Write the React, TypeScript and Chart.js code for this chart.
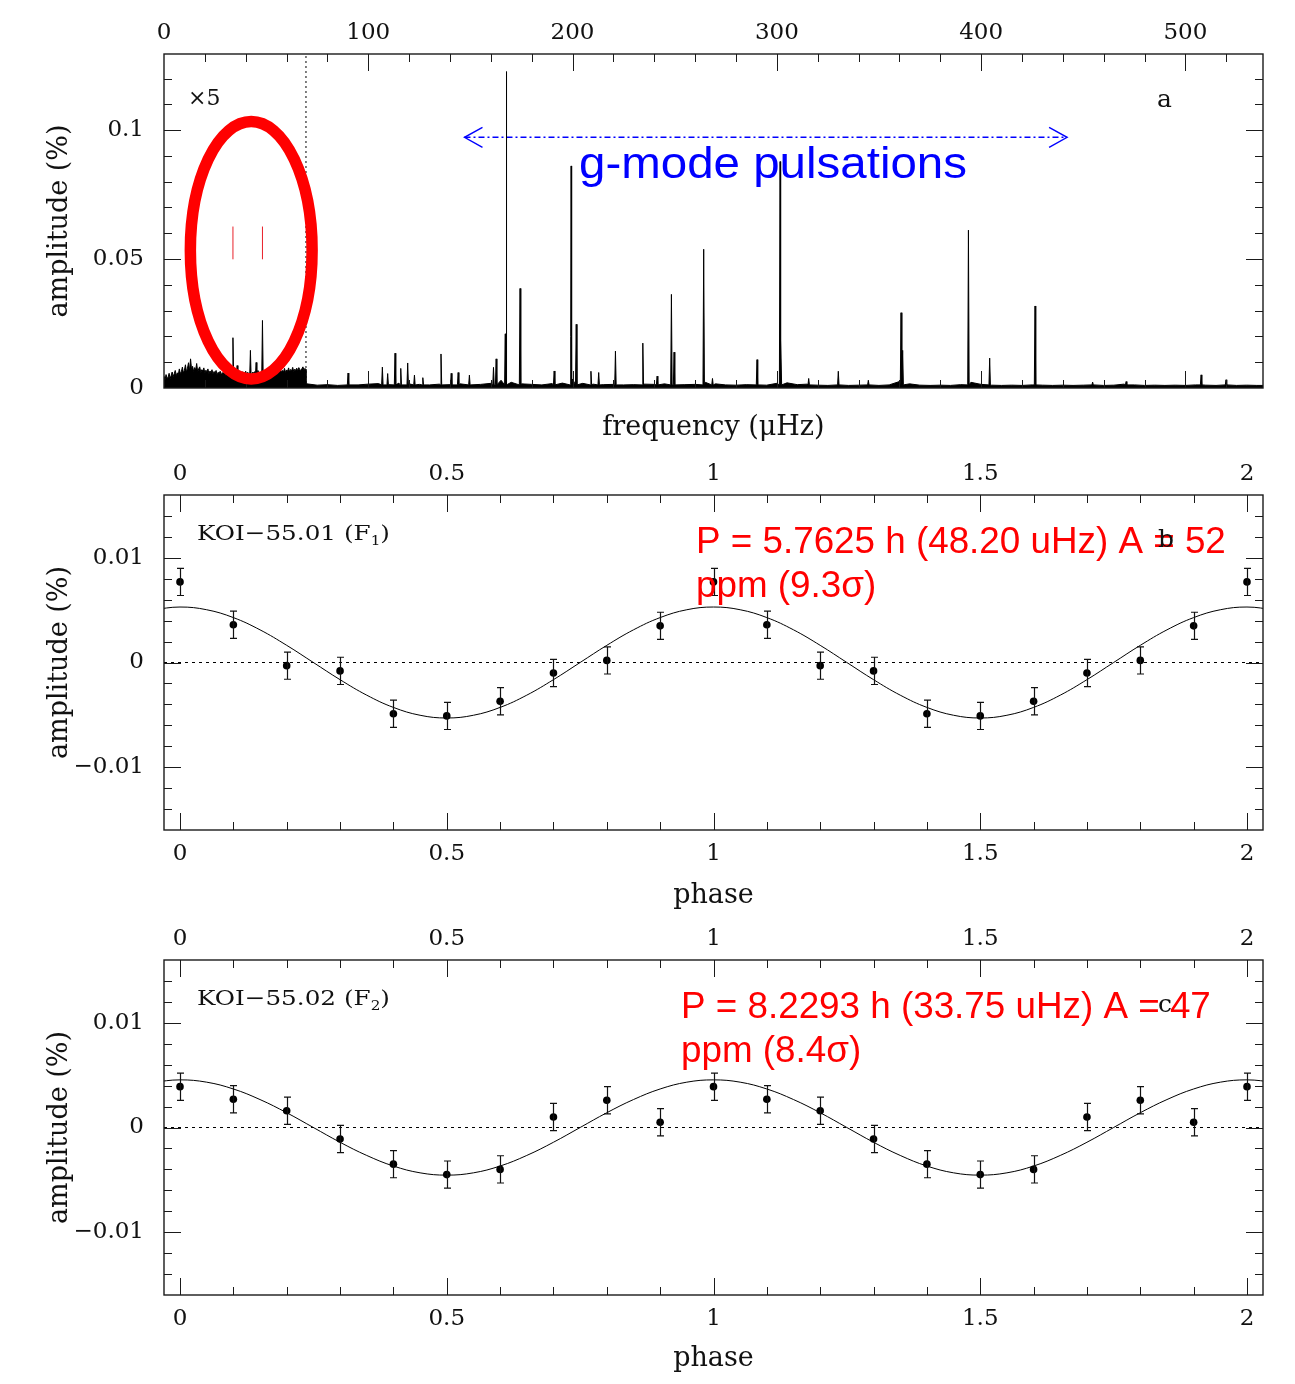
import React, { useEffect, useRef } from "react";
import { Chart, registerables } from "chart.js";

Chart.register(...registerables);

const SERIF = '"DejaVu Serif", serif';
const SANS = '"Liberation Sans", Arial, sans-serif';

// ================= Panel a : amplitude spectrum =================
const freqRange = [0, 538];
const ampRange = [0, 0.1295];
const freqTickStep = 100;
const ampTickStep = 0.05;
const cutoffFreq = 69.5; // below this the spectrum is shown x5

// low-frequency noise band (x5), one value per 0.5 µHz from 0 µHz
const lowNoiseStep = 0.5;
const lowNoise = [
  0.0046, 0.0031, 0.0052, 0.0038, 0.0041, 0.0057, 0.0036, 0.0049, 0.0062, 0.0044,
  0.0055, 0.0068, 0.0047, 0.0059, 0.0051, 0.0074, 0.0056, 0.0063, 0.0081, 0.0058,
  0.0069, 0.0090, 0.0061, 0.0077, 0.0098, 0.0066, 0.0113, 0.0072, 0.0084, 0.0064,
  0.0079, 0.0070, 0.0095, 0.0062, 0.0075, 0.0082, 0.0060, 0.0071, 0.0066, 0.0078,
  0.0058, 0.0069, 0.0063, 0.0074, 0.0055, 0.0066, 0.0060, 0.0071, 0.0053, 0.0064,
  0.0058, 0.0068, 0.0050, 0.0061, 0.0056, 0.0065, 0.0049, 0.0060, 0.0054, 0.0063,
  0.0048, 0.0059, 0.0052, 0.0064, 0.0047, 0.0058, 0.0053, 0.0061, 0.0049, 0.0057,
  0.0062, 0.0050, 0.0055, 0.0066, 0.0048, 0.0060, 0.0053, 0.0063, 0.0051, 0.0058,
  0.0065, 0.0049, 0.0061, 0.0054, 0.0059, 0.0067, 0.0052, 0.0062, 0.0056, 0.0064,
  0.0057, 0.0050, 0.0068, 0.0055, 0.0060, 0.0053, 0.0066, 0.0058, 0.0063, 0.0051,
  0.0067, 0.0056, 0.0061, 0.0069, 0.0054, 0.0064, 0.0059, 0.0071, 0.0057, 0.0065,
  0.0060, 0.0072, 0.0058, 0.0066, 0.0074, 0.0061, 0.0068, 0.0063, 0.0076, 0.0060,
  0.0070, 0.0065, 0.0078, 0.0062, 0.0072, 0.0067, 0.0080, 0.0064, 0.0073, 0.0069,
  0.0077, 0.0066, 0.0079, 0.0071, 0.0068, 0.0075, 0.0082, 0.0070, 0.0076, 0.0072,
];

// noise floor above the cut-off, every 5 µHz from 70 µHz
const highNoiseStart = 70;
const highNoiseStep = 5;
const highNoise = [
  0.0016, 0.0011, 0.0013, 0.0010, 0.0014, 0.0012, 0.0015, 0.0017, 0.0013, 0.0019,
  0.0016, 0.0014, 0.0012, 0.0015, 0.0013, 0.0016, 0.0012, 0.0014, 0.0018, 0.0030,
  0.0022, 0.0016, 0.0014, 0.0012, 0.0017, 0.0019, 0.0035, 0.0018, 0.0015, 0.0013,
  0.0014, 0.0012, 0.0013, 0.0015, 0.0014, 0.0016, 0.0020, 0.0013, 0.0014, 0.0022,
  0.0016, 0.0012, 0.0011, 0.0013, 0.0012, 0.0011, 0.0018, 0.0020, 0.0013, 0.0015,
  0.0011, 0.0010, 0.0012, 0.0010, 0.0011, 0.0013, 0.0010, 0.0012, 0.0025, 0.0016,
  0.0011, 0.0010, 0.0011, 0.0010, 0.0013, 0.0022, 0.0014, 0.0011, 0.0010, 0.0011,
  0.0010, 0.0012, 0.0011, 0.0010, 0.0011, 0.0010, 0.0011, 0.0014, 0.0010, 0.0011,
  0.0015, 0.0012, 0.0010, 0.0011, 0.0010, 0.0011, 0.0010, 0.0012, 0.0011, 0.0010,
  0.0012, 0.0010, 0.0011, 0.0010, 0.0010,
];

// spectral peaks (µHz) and plotted amplitudes (%)
const peakFreqs = [
  33.75, 35.8, 42.3, 45.1, 48.2,
  90.1, 106.9, 109.5, 113.1, 115.9, 119.3, 122.6, 126.7, 135.6, 140.6, 144.0, 149.5,
  161.3, 162.6, 167.1, 167.5, 174.3, 191.0, 199.1, 199.3, 201.8, 209.0, 212.8, 221.0,
  234.4, 241.4, 248.4, 249.7, 264.2, 268.5, 290.3, 301.6, 302.0, 315.6, 330.1, 344.8,
  360.8, 361.6, 393.8, 404.2, 426.4, 454.6, 471.0, 507.7, 519.9,
];
const peakAmps = [
  0.0195, 0.0087, 0.0146, 0.0099, 0.0262,
  0.0058, 0.0081, 0.0056, 0.0135, 0.0076, 0.0097, 0.0050, 0.0040, 0.0132, 0.0057, 0.0060, 0.0050,
  0.0080, 0.0113, 0.0210, 0.1227, 0.0386, 0.0066, 0.0200, 0.0861, 0.0247, 0.0065, 0.0060, 0.0143,
  0.0174, 0.0046, 0.0363, 0.0139, 0.0538, 0.0037, 0.0110, 0.0878, 0.0185, 0.0037, 0.0065, 0.0030,
  0.0292, 0.0146, 0.0612, 0.0116, 0.0318, 0.0023, 0.0025, 0.0051, 0.0032,
];

// KOI-55 candidate frequencies marked in red
const markerFreqs = [33.75, 48.2];
const markerAmps = [0.0499, 0.0626];
// g-mode range arrow
const bandFreqs = [147.1, 442.1];
const bandAmp = 0.0972;
// annotation ellipse (centre and radii in data units)
const ellipseCenter = [42.7, 0.0534];
const ellipseRadii = [29.8, 0.0499];

// ================= Panels b, c : folded light curves =================
const phaseRange = [-0.03, 2.03];
const phaseTickStep = 0.5;
const relAmpRange = [-0.016, 0.016];
const relAmpTickStep = 0.01;

const phases = [0, 0.1, 0.2, 0.3, 0.4, 0.5, 0.6, 0.7, 0.8, 0.9, 1.0, 1.1, 1.2, 1.3, 1.4, 1.5, 1.6, 1.7, 1.8, 1.9, 2.0];
const f1Amp = [0.0077, 0.0036, -0.0003, -0.0008, -0.0049, -0.0051, -0.0037, -0.0010, 0.0002, 0.0035,
  0.0077, 0.0036, -0.0003, -0.0008, -0.0049, -0.0051, -0.0037, -0.0010, 0.0002, 0.0035, 0.0077];
const f1Err = [0.0013, 0.0013, 0.0013, 0.0013, 0.0013, 0.0013, 0.0013, 0.0013, 0.0013, 0.0013,
  0.0013, 0.0013, 0.0013, 0.0013, 0.0013, 0.0013, 0.0013, 0.0013, 0.0013, 0.0013, 0.0013];
const f2Amp = [0.0039, 0.0027, 0.0016, -0.0011, -0.0035, -0.0045, -0.0040, 0.0010, 0.0026, 0.0005,
  0.0039, 0.0027, 0.0016, -0.0011, -0.0035, -0.0045, -0.0040, 0.0010, 0.0026, 0.0005, 0.0039];
const f2Err = [0.0013, 0.0013, 0.0013, 0.0013, 0.0013, 0.0013, 0.0013, 0.0013, 0.0013, 0.0013,
  0.0013, 0.0013, 0.0013, 0.0013, 0.0013, 0.0013, 0.0013, 0.0013, 0.0013, 0.0013, 0.0013];

// fitted curve over one period (repeats each cycle)
const fitPhases = [0, 0.05, 0.1, 0.15, 0.2, 0.25, 0.3, 0.35, 0.4, 0.45, 0.5, 0.55, 0.6, 0.65, 0.7, 0.75, 0.8, 0.85, 0.9, 0.95, 1.0];
const f1Fit = [0.0053, 0.00504, 0.00429, 0.00312, 0.00164, 0, -0.00164, -0.00312, -0.00429, -0.00504, -0.0053,
  -0.00504, -0.00429, -0.00312, -0.00164, 0, 0.00164, 0.00312, 0.00429, 0.00504, 0.0053];
const f2Fit = [0.00455, 0.00433, 0.00368, 0.00267, 0.00141, 0, -0.00141, -0.00267, -0.00368, -0.00433, -0.00455,
  -0.00433, -0.00368, -0.00267, -0.00141, 0, 0.00141, 0.00267, 0.00368, 0.00433, 0.00455];

// ================= helpers =================
type Pt = { x: number; y: number | null };

function buildSpectrum(): Pt[] {
  const pts: Pt[] = [];
  const nearPeak = (f: number) => peakFreqs.some((p) => Math.abs(p - f) < 0.45);
  lowNoise.forEach((v, i) => {
    const f = i * lowNoiseStep;
    if (!nearPeak(f)) pts.push({ x: f, y: v });
  });
  pts.push({ x: cutoffFreq, y: lowNoise[lowNoise.length - 1] });
  pts.push({ x: cutoffFreq + 0.01, y: highNoise[0] });
  highNoise.forEach((v, i) => {
    const f = highNoiseStart + i * highNoiseStep;
    if (!nearPeak(f)) pts.push({ x: f, y: v });
  });
  peakFreqs.forEach((f, i) => {
    const base = f < cutoffFreq ? 0.0045 : 0.0012;
    pts.push({ x: f - 0.35, y: base }, { x: f, y: peakAmps[i] }, { x: f + 0.35, y: base });
  });
  pts.sort((a, b) => a.x - b.x);
  return pts;
}

function buildFit(vals: number[]): Pt[] {
  const out: Pt[] = [];
  for (let c = -1; c <= 2; c++) {
    fitPhases.forEach((p, k) => {
      if (k === fitPhases.length - 1 && c < 2) return;
      const x = c + p;
      if (x >= phaseRange[0] - 0.06 && x <= phaseRange[1] + 0.06) out.push({ x, y: vals[k] });
    });
  }
  return out;
}

const fmt = (v: any) => String(Math.round(Number(v) * 1e6) / 1e6).replace("-", "\u2212");

function drawText(ctx: CanvasRenderingContext2D, text: string, x: number, y: number, font: string, color: string, targetW?: number) {
  ctx.save();
  ctx.font = font;
  ctx.fillStyle = color;
  ctx.textAlign = "left";
  ctx.textBaseline = "alphabetic";
  if (targetW) {
    const w = ctx.measureText(text).width;
    ctx.translate(x, y);
    ctx.scale(targetW / w, 1);
    ctx.fillText(text, 0, 0);
  } else {
    ctx.fillText(text, x, y);
  }
  ctx.restore();
}

function drawSubLabel(ctx: CanvasRenderingContext2D, pre: string, sub: string, post: string, x: number, y: number, size: number, targetW: number) {
  ctx.save();
  ctx.fillStyle = "#111";
  ctx.textAlign = "left";
  ctx.textBaseline = "alphabetic";
  const big = `${size}px ${SERIF}`;
  const small = `${Math.round(size * 0.62)}px ${SERIF}`;
  ctx.font = big;
  const w1 = ctx.measureText(pre).width;
  const w3 = ctx.measureText(post).width;
  ctx.font = small;
  const w2 = ctx.measureText(sub).width;
  const s = targetW / (w1 + w2 + w3);
  ctx.translate(x, y);
  ctx.scale(s, 1);
  ctx.font = big;
  ctx.fillText(pre, 0, 0);
  ctx.font = small;
  ctx.fillText(sub, w1, size * 0.25);
  ctx.font = big;
  ctx.fillText(post, w1 + w2, 0);
  ctx.restore();
}

const frameTicksPlugin = {
  id: "frameTicks",
  afterDraw(chart: any, _args: any, o: any) {
    const { ctx, chartArea: ca } = chart;
    const xs = chart.scales.x;
    const ys = chart.scales.y;
    ctx.save();
    ctx.strokeStyle = "#1a1a1a";
    ctx.lineWidth = 1;
    ctx.beginPath();
    const xEvery = Math.round(o.xMajor / o.xMinor);
    const k0 = Math.ceil((xs.min - o.xFrom) / o.xMinor - 1e-9);
    const k1 = Math.floor((xs.max - o.xFrom) / o.xMinor + 1e-9);
    for (let k = k0; k <= k1; k++) {
      const px = Math.round(xs.getPixelForValue(o.xFrom + k * o.xMinor)) + 0.5;
      if (px < ca.left + 1.5 || px > ca.right - 1.5) continue;
      const len = k % xEvery === 0 ? o.majorLen : o.minorLen;
      ctx.moveTo(px, ca.top);
      ctx.lineTo(px, ca.top + len);
      ctx.moveTo(px, ca.bottom);
      ctx.lineTo(px, ca.bottom - len);
    }
    const yEvery = Math.round(o.yMajor / o.yMinor);
    const j0 = Math.ceil((ys.min - o.yFrom) / o.yMinor - 1e-9);
    const j1 = Math.floor((ys.max - o.yFrom) / o.yMinor + 1e-9);
    for (let j = j0; j <= j1; j++) {
      const py = Math.round(ys.getPixelForValue(o.yFrom + j * o.yMinor)) + 0.5;
      if (py < ca.top + 1.5 || py > ca.bottom - 1.5) continue;
      const len = j % yEvery === 0 ? o.majorLen : o.minorLen;
      ctx.moveTo(ca.left, py);
      ctx.lineTo(ca.left + len, py);
      ctx.moveTo(ca.right, py);
      ctx.lineTo(ca.right - len, py);
    }
    ctx.stroke();
    ctx.lineWidth = 1.4;
    ctx.strokeRect(ca.left, ca.top, ca.right - ca.left, ca.bottom - ca.top);
    ctx.restore();
  },
};

const errorBarsPlugin = {
  id: "errorBars",
  afterDatasetsDraw(chart: any) {
    const { ctx } = chart;
    chart.data.datasets.forEach((ds: any, i: number) => {
      if (!ds.errorBars) return;
      const meta = chart.getDatasetMeta(i);
      const ys = chart.scales[meta.yAxisID];
      ctx.save();
      ctx.strokeStyle = "#111";
      ctx.lineWidth = 1.2;
      ctx.beginPath();
      meta.data.forEach((el: any, j: number) => {
        const v = ds.data[j].y;
        const e = ds.errorBars[j];
        const t = ys.getPixelForValue(v + e);
        const b = ys.getPixelForValue(v - e);
        const x = Math.round(el.x) + 0.5;
        ctx.moveTo(x, t);
        ctx.lineTo(x, b);
        ctx.moveTo(x - 3.5, t);
        ctx.lineTo(x + 3.5, t);
        ctx.moveTo(x - 3.5, b);
        ctx.lineTo(x + 3.5, b);
      });
      ctx.stroke();
      ctx.restore();
    });
  },
};

const tickFont = { family: SERIF, size: 23 };
const titleFont = { family: SERIF, size: 27 };

function xAxis(position: "top" | "bottom", min: number, max: number, step: number, showLabels: boolean, height: number, pad: number, title?: string, titlePad?: number) {
  return {
    type: "linear",
    position,
    min,
    max,
    grid: { display: false, drawTicks: false },
    border: { display: false },
    ticks: { display: showLabels, stepSize: step, includeBounds: false, autoSkip: false, maxRotation: 0, font: tickFont, color: "#111", padding: pad, callback: fmt },
    title: title ? { display: true, text: title, font: titleFont, color: "#111", padding: { top: 0, bottom: titlePad || 0 } } : { display: false },
    afterFit: (s: any) => {
      s.height = height;
    },
  };
}

function yAxis(min: number, max: number, step: number) {
  return {
    type: "linear",
    position: "left",
    min,
    max,
    grid: { display: false, drawTicks: false },
    border: { display: false },
    ticks: { stepSize: step, includeBounds: false, autoSkip: false, font: tickFont, color: "#111", padding: 20, callback: fmt },
    title: { display: true, text: "amplitude (%)", font: titleFont, color: "#111", padding: { top: 44, bottom: 0 } },
    afterFit: (s: any) => {
      s.width = 164;
    },
  };
}

function spectrumConfig(): any {
  const markers: Pt[] = [];
  markerFreqs.forEach((f, i) => {
    if (i > 0) markers.push({ x: (markerFreqs[i - 1] + f) / 2, y: null });
    markers.push({ x: f, y: markerAmps[0] }, { x: f, y: markerAmps[1] });
  });
  const annot = {
    id: "panelAAnnot",
    afterDraw(chart: any) {
      const { ctx, chartArea: ca } = chart;
      const x = chart.scales.x;
      const y = chart.scales.y;
      ctx.save();
      const cx = x.getPixelForValue(ellipseCenter[0]);
      const cy = y.getPixelForValue(ellipseCenter[1]);
      const rx = x.getPixelForValue(ellipseCenter[0] + ellipseRadii[0]) - cx;
      const ry = cy - y.getPixelForValue(ellipseCenter[1] + ellipseRadii[1]);
      ctx.strokeStyle = "#ff0000";
      ctx.lineWidth = 11.5;
      ctx.beginPath();
      ctx.ellipse(cx, cy, rx, ry, 0, 0, Math.PI * 2);
      ctx.stroke();
      const ay = y.getPixelForValue(bandAmp);
      const lx = x.getPixelForValue(bandFreqs[0]);
      const rxp = x.getPixelForValue(bandFreqs[1]);
      ctx.strokeStyle = "#0000ff";
      ctx.lineWidth = 1.4;
      ctx.beginPath();
      ctx.moveTo(lx + 18, ay - 10);
      ctx.lineTo(lx, ay);
      ctx.lineTo(lx + 18, ay + 10);
      ctx.moveTo(rxp - 18, ay - 10);
      ctx.lineTo(rxp, ay);
      ctx.lineTo(rxp - 18, ay + 10);
      ctx.stroke();
      ctx.restore();
      drawText(ctx, "g-mode pulsations", ca.left + 415, ca.top + 124, `45px ${SANS}`, "#0000ff", 388);
      drawText(ctx, "\u00d75", ca.left + 24, ca.top + 51, `22px ${SERIF}`, "#111");
      drawText(ctx, "a", ca.right - 106, ca.top + 53, `25px ${SERIF}`, "#111");
    },
  };
  return {
    type: "line",
    data: {
      datasets: [
        { label: "spectrum", data: buildSpectrum(), borderColor: "#000", backgroundColor: "#000", borderWidth: 1, pointRadius: 0, fill: "origin", tension: 0 },
        { label: "x5 limit", data: [{ x: cutoffFreq, y: ampRange[0] }, { x: cutoffFreq, y: ampRange[1] }], borderColor: "#000", borderWidth: 1, borderDash: [2, 3], pointRadius: 0, fill: false },
        { label: "KOI-55 frequencies", data: markers, borderColor: "#e8202a", borderWidth: 1, pointRadius: 0, spanGaps: false, fill: false },
        { label: "g-mode range", data: [{ x: bandFreqs[0], y: bandAmp }, { x: bandFreqs[1], y: bandAmp }], borderColor: "#0000ff", borderWidth: 1.4, borderDash: [6, 3, 2, 3], pointRadius: 0, fill: false },
      ],
    },
    options: {
      responsive: false,
      animation: false,
      events: [],
      layout: { padding: { left: 0, right: 32, top: 0, bottom: 0 } },
      plugins: {
        legend: { display: false },
        tooltip: { enabled: false },
        frameTicks: { xFrom: 0, xMinor: 20, xMajor: 100, yFrom: 0, yMinor: 0.01, yMajor: 0.05, majorLen: 17, minorLen: 8 },
      },
      scales: {
        x: xAxis("bottom", freqRange[0], freqRange[1], freqTickStep, false, 57, 10, "frequency (\u03bcHz)", 1),
        xTop: xAxis("top", freqRange[0], freqRange[1], freqTickStep, true, 54, 7),
        y: yAxis(ampRange[0], ampRange[1], ampTickStep),
      },
    },
    plugins: [frameTicksPlugin, annot],
  };
}

function phaseConfig(amps: number[], errs: number[], fit: number[], label: [string, string], letter: string, red: [string, string], redX: number, topH: number, botH: number, titlePad: number): any {
  const annot = {
    id: "phaseAnnot",
    afterDraw(chart: any) {
      const { ctx, chartArea: ca } = chart;
      drawSubLabel(ctx, label[0], label[1], ")", ca.left + 33, ca.top + 45, 21, 193);
      drawText(ctx, red[0], ca.left + redX, ca.top + 58, `36.8px ${SANS}`, "#ff0000");
      drawText(ctx, red[1], ca.left + redX, ca.top + 102, `36.8px ${SANS}`, "#ff0000");
      drawText(ctx, letter, ca.right - 105, ca.top + 52, `25px ${SERIF}`, "#111");
    },
  };
  return {
    type: "line",
    data: {
      datasets: [
        { label: "zero", data: [{ x: phaseRange[0], y: 0 }, { x: phaseRange[1], y: 0 }], borderColor: "#000", borderWidth: 1, borderDash: [3, 4], pointRadius: 0, fill: false },
        { label: "fit", data: buildFit(fit), borderColor: "#000", borderWidth: 1, pointRadius: 0, tension: 0.4, fill: false },
        {
          label: "binned flux",
          data: phases.map((p, i) => ({ x: p, y: amps[i] })),
          errorBars: errs,
          showLine: false,
          pointRadius: 3.8,
          pointBackgroundColor: "#000",
          pointBorderColor: "#000",
          pointBorderWidth: 0,
          fill: false,
        },
      ],
    },
    options: {
      responsive: false,
      animation: false,
      events: [],
      layout: { padding: { left: 0, right: 32, top: 0, bottom: 0 } },
      plugins: {
        legend: { display: false },
        tooltip: { enabled: false },
        frameTicks: { xFrom: 0, xMinor: 0.1, xMajor: 0.5, yFrom: 0, yMinor: 0.002, yMajor: 0.01, majorLen: 17, minorLen: 8 },
      },
      scales: {
        x: xAxis("bottom", phaseRange[0], phaseRange[1], phaseTickStep, true, botH, 10, "phase", titlePad),
        xTop: xAxis("top", phaseRange[0], phaseRange[1], phaseTickStep, true, topH, 7),
        y: yAxis(relAmpRange[0], relAmpRange[1], relAmpTickStep),
      },
    },
    plugins: [frameTicksPlugin, errorBarsPlugin, annot],
  };
}

function ChartCanvas({ top, height, make }: { top: number; height: number; make: () => any }) {
  const ref = useRef<HTMLCanvasElement>(null);
  useEffect(() => {
    const chart = new Chart(ref.current as HTMLCanvasElement, make());
    return () => chart.destroy();
  }, []);
  return <canvas ref={ref} width={1295} height={height} style={{ position: "absolute", left: 0, top, width: 1295, height, display: "block" }} />;
}

export default function App() {
  Chart.defaults.font.family = SERIF;
  Chart.defaults.color = "#111";
  return (
    <div style={{ position: "absolute", left: 0, top: 0, width: 1295, height: 1384, background: "#fff", overflow: "hidden" }}>
      <ChartCanvas top={0} height={445} make={spectrumConfig} />
      <ChartCanvas
        top={445}
        height={470}
        make={() =>
          phaseConfig(f1Amp, f1Err, f1Fit, ["KOI\u221255.01 (F", "1"], "b", ["P = 5.7625 h (48.20 uHz) A = 52", "ppm (9.3\u03c3)"], 532, 50, 85, 3)
        }
      />
      <ChartCanvas
        top={915}
        height={469}
        make={() =>
          phaseConfig(f2Amp, f2Err, f2Fit, ["KOI\u221255.02 (F", "2"], "c", ["P = 8.2293 h (33.75 uHz) A = 47", "ppm (8.4\u03c3)"], 517, 45, 89, 9)
        }
      />
    </div>
  );
}
